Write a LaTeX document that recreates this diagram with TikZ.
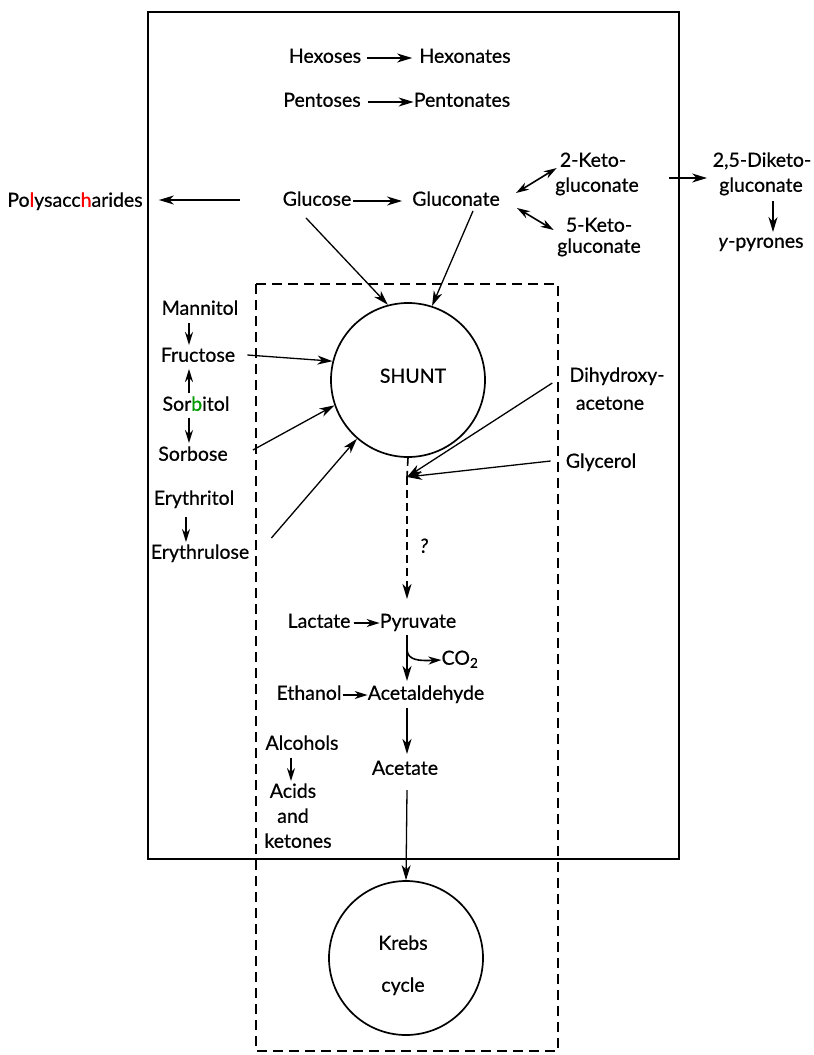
\documentclass[tikz,border=0pt]{standalone}
\usepackage{fontspec}
\setmainfont{Lato}[FakeBold=0.6]
\usetikzlibrary{arrows.meta,calc}
\begin{document}
\begin{tikzpicture}[x=1pt,y=-1pt,
  lbl/.style={inner sep=0pt, font=\fontsize{19.5}{22}\selectfont, text height=13.5pt, text depth=4pt},
  arr/.style={-{Stealth[length=15pt,width=9pt,inset=4.5pt]}, line width=1.6pt},
  sarr/.style={-{Stealth[length=13pt,width=8pt,inset=4pt]}, line width=1.6pt},
  dbl/.style={{Stealth[length=13pt,width=8pt,inset=4pt]}-{Stealth[length=13pt,width=8pt,inset=4pt]}, line width=1.6pt},
  cyc/.style={circle, draw, line width=1.7pt, minimum size=154pt, inner sep=0pt},
  outerbox/.style={line width=2.8pt},
  dbox/.style={dash pattern=on 10pt off 6pt, line width=1.8pt},
  dline/.style={dash pattern=on 8pt off 5pt, line width=1.6pt}
]
\useasboundingbox (0,0) rectangle (814,1055);
\draw[outerbox] (148,12) rectangle (679,859);
\draw[dbox] (256,284) rectangle (558,1051);

% top rows
\node[lbl] (hex) at (325,58) {Hexoses};
\node[lbl] (hexn) at (465,58) {Hexonates};
\node[lbl] (pen) at (322,102) {Pentoses};
\node[lbl] (penn) at (462,102) {Pentonates};
\draw[arr] ($(hex.east)+(6,0)$) -- ($(hexn.west)+(-7,0)$);
\draw[arr] ($(pen.east)+(7,0)$) -- ($(penn.west)+(0,0)$);

% glucose row
\node[lbl] (poly) at (75,202) {Po{\color{red}l}ysacc{\color{red}h}arides};
\node[lbl] (glc) at (317,201) {Glucose};
\node[lbl] (glcn) at (456,201) {Gluconate};
\draw[arr] ($(glc.east)+(2,0)$) -- ($(glcn.west)+(-10,0)$);
\draw[arr] ($(glc.west)+(-43,-1)$) -- ($(poly.east)+(16,-2)$);

\node[lbl] (k2a) at (593,162) {2-Keto-};
\node[lbl] (k2b) at (597,187) {gluconate};
\node[lbl] (k5a) at (599,227) {5-Keto-};
\node[lbl] (k5b) at (599,248) {gluconate};
\draw[dbl] ($(glcn.east)+(16,-8)$) -- ($(k2a.west)+(-3,6)$);
\draw[dbl] ($(glcn.east)+(17,7)$) -- ($(k5a.west)+(-12,3)$);

\node[lbl] (dka) at (762,162) {2,5-Diketo-};
\node[lbl] (dkb) at (761,187) {gluconate};
\node[lbl] (gpy) at (761,243) {\textit{y}-pyrones};
\draw[arr] ($(k2b.east)+(30,-9)$) -- ($(dkb.west)+(-12,-9)$);
\draw[arr] ($(dkb.south)+(12,5)$) -- ($(gpy.north)+(12,-2)$);

% shunt
\node[cyc] (shunt) at (408,380) {};
\node[lbl] (shuntlbl) at (413,378) {SHUNT};
\draw[arr, line width=1.3pt] ($(glc.south)+(-11,8)$) -- (shunt.105);
\draw[arr, line width=1.3pt] ($(glcn.south)+(17,1)$) -- (shunt.72);

% left column
\node[lbl] (mann) at (200,310) {Mannitol};
\node[lbl] (fru) at (198,357) {Fructose};
\node[lbl] (sorl) at (196,406) {Sor{\color{green!60!black}b}itol};
\node[lbl] (sorb) at (193,456) {Sorbose};
\node[lbl] (ery) at (194,500) {Erythritol};
\node[lbl] (eru) at (200,554) {Erythrulose};
\draw[sarr] ($(mann.south)+(-11,4)$) -- ($(fru.north)+(-9,-3)$);
\draw[sarr] ($(sorl.north)+(-7,-4)$) -- ($(fru.south)+(-9,3)$);
\draw[sarr] ($(sorl.south)+(-7,3)$) -- ($(sorb.north)+(-4,-4)$);
\draw[sarr] ($(ery.south)+(-8,8)$) -- ($(eru.north)+(-14,-3)$);
\draw[arr, line width=1.3pt] ($(fru.east)+(12,-2)$) -- (shunt.166);
\draw[arr, line width=1.3pt] ($(sorb.east)+(25,-6)$) -- (shunt.199);
\draw[arr, line width=1.3pt] ($(eru.east)+(22,-16)$) -- (shunt.229);

% right inputs
\node[lbl] (dha) at (617,377) {Dihydroxy-};
\node[lbl] (ace) at (610,405) {acetone};
\node[lbl] (gly) at (601,463) {Glycerol};
\coordinate (j) at (407,477);
\draw[arr, line width=1.3pt] ($(dha.west)+(-17,6)$) -- (j);
\draw[arr, line width=1.3pt] ($(gly.west)+(-15,-2)$) -- (j);

% trunk
\node[lbl] (q) at (424,548) {\textit{?}};
\node[lbl] (lac) at (319,623) {Lactate};
\node[lbl] (pyru) at (418,623) {Pyruvate};
\coordinate (pin) at (407,599);
\draw[dline] (shunt.south) -- (j);
\draw[dline, -{Stealth[length=15pt,width=9pt,inset=4.5pt]}] (j) -- (pin);
\draw[sarr] ($(lac.east)+(3,0)$) -- (pyru.west);

\node[lbl] (co2) at (460,660) {CO\textsubscript{2}};
\node[lbl] (eth) at (309,695) {Ethanol};
\node[lbl] (acald) at (426,695) {Acetaldehyde};
\coordinate (p1) at (407,635);
\coordinate (p2) at (407,650);
\coordinate (a1) at (407,681);
\draw[arr] (p1) -- (a1);
\draw[sarr] (p2) .. controls (408,660) and (418,661) .. (co2.west);
\draw[sarr] ($(eth.east)+(1,0)$) -- (acald.west);

\node[lbl] (acet) at (405,770) {Acetate};
\coordinate (a2) at (407,708);
\coordinate (a3) at (407,754);
\draw[arr] (a2) -- (a3);

\node[lbl] (alc) at (302,745) {Alcohols};
\node[lbl] (acid) at (293,793) {Acids};
\node[lbl] (andw) at (293,818) {and};
\node[lbl] (ket) at (298,843) {ketones};
\draw[sarr] ($(alc.south)+(-11,4)$) -- ($(acid.north)+(-2,-3)$);

% Krebs
\node[cyc] (krebs) at (406,958) {};
\node[lbl] (kr1) at (403,945) {Krebs};
\node[lbl] (kr2) at (403,987) {cycle};
\coordinate (a4) at (407,790);
\draw[arr, line width=1.3pt] (a4) -- (krebs.north);
\end{tikzpicture}
\end{document}
